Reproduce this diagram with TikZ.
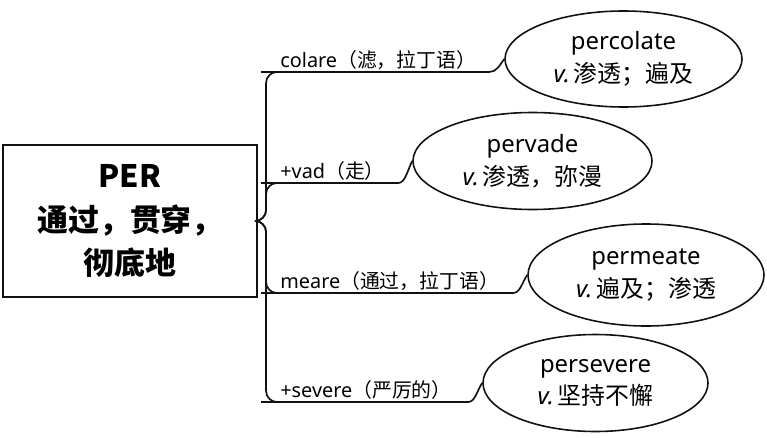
\documentclass[tikz,border=0pt]{standalone}
\usepackage{fontspec}
\setmainfont{Noto Sans}
\newfontfamily\cjk{Noto Sans CJK SC}
\usetikzlibrary{calc,shapes.geometric}
\definecolor{ink}{HTML}{111111}
\tikzset{
  rootbox/.style={
    draw=ink,
    line width=1.2pt,
    minimum width=5.08cm,
    minimum height=3.04cm,
    align=center,
    font=\fontsize{17.6}{24.7}\selectfont\cjk\bfseries
  },
  wordnode/.style={
    ellipse,
    draw=ink,
    line width=0.9pt,
    inner sep=0pt,
    align=center,
    font=\fontsize{13.6}{18.7}\selectfont
  },
  rootlabel/.style={anchor=south west,inner xsep=0.16cm,inner ysep=1pt,font=\fontsize{11.3}{12}\selectfont},
  branch/.style={draw=ink,line width=0.95pt}
}
\newcommand{\wordpos}{\textit{v.}\,}

\begin{document}
\begin{tikzpicture}[x=1cm,y=1cm]
  \useasboundingbox (0,0) rectangle (15.34,8.74);

  \node[rootbox] (root) at (2.6,4.32) {PER\\通过，贯穿，\\彻底地};

  \node[wordnode,minimum width=4.74cm,minimum height=1.92cm] (percolate) at (12.47,7.56) {percolate\\\wordpos{\cjk 渗透；遍及}};
  \node[wordnode,minimum width=4.78cm,minimum height=1.94cm] (pervade) at (10.65,5.52) {pervade\\\wordpos{\cjk 渗透，弥漫}};
  \node[wordnode,minimum width=4.72cm,minimum height=2.04cm] (permeate) at (12.92,3.24) {permeate\\\wordpos{\cjk 遍及；渗透}};
  \node[wordnode,minimum width=4.5cm,minimum height=1.94cm] (persevere) at (11.91,1.08) {persevere\\\wordpos{\cjk 坚持不懈}};

  \node[rootlabel] (colare) at (5.44,7.3) {colare{\cjk （滤，拉丁语）}};
  \node[rootlabel] (vad) at (5.44,5.08) {+vad{\cjk （走）}};
  \node[rootlabel] (meare) at (5.44,2.88) {meare{\cjk （通过，拉丁语）}};
  \node[rootlabel] (severe) at (5.44,0.7) {+severe{\cjk （严厉的）}};

  \draw[branch] (root.east) [rounded corners=0.22cm] -- ++(0.16,0) |- (colare.south west) [sharp corners] -- ($(colare.south west -| percolate.west)+(-0.3,0)$) .. controls +(0.14,0) and +(-0.1,-0.14) .. (percolate.west);
  \draw[branch] (root.east) [rounded corners=0.22cm] -- ++(0.16,0) |- (vad.south west) [sharp corners] -- ($(vad.south west -| pervade.west)+(-0.28,0)$) .. controls +(0.14,0) and +(-0.1,-0.2) .. (pervade.west);
  \draw[branch] (root.east) [rounded corners=0.22cm] -- ++(0.16,0) |- (meare.south west) [sharp corners] -- ($(meare.south west -| permeate.west)+(-0.28,0)$) .. controls +(0.14,0) and +(-0.1,-0.14) .. (permeate.west);
  \draw[branch] (root.east) [rounded corners=0.22cm] -- ++(0.16,0) |- (severe.south west) [sharp corners] -- ($(severe.south west -| persevere.west)+(-0.28,0)$) .. controls +(0.14,0) and +(-0.1,-0.14) .. (persevere.west);
\end{tikzpicture}
\end{document}
